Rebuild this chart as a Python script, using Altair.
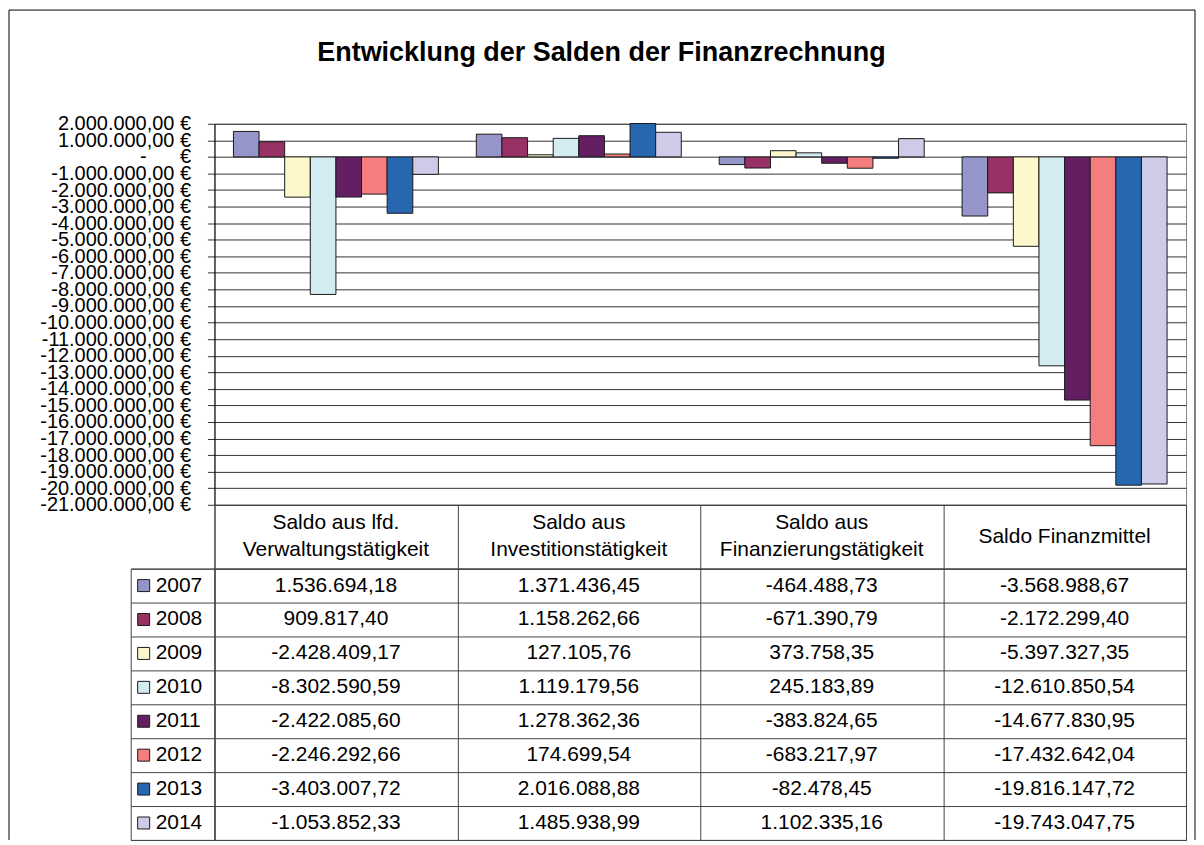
import altair as alt
import pandas as pd

# ---- data ----
categories = [
    "Saldo aus lfd.|Verwaltungstätigkeit",
    "Saldo aus|Investitionstätigkeit",
    "Saldo aus|Finanzierungstätigkeit",
    "Saldo Finanzmittel",
]
years = ["2007", "2008", "2009", "2010", "2011", "2012", "2013", "2014"]
v2007 = [1536694.18, 1371436.45, -464488.73, -3568988.67]
v2008 = [909817.40, 1158262.66, -671390.79, -2172299.40]
v2009 = [-2428409.17, 127105.76, 373758.35, -5397327.35]
v2010 = [-8302590.59, 1119179.56, 245183.89, -12610850.54]
v2011 = [-2422085.60, 1278362.36, -383824.65, -14677830.95]
v2012 = [-2246292.66, 174699.54, -683217.97, -17432642.04]
v2013 = [-3403007.72, 2016088.88, -82478.45, -19816147.72]
v2014 = [-1053852.33, 1485938.99, 1102335.16, -19743047.75]
series = [v2007, v2008, v2009, v2010, v2011, v2012, v2013, v2014]
colors = ["#9595C9", "#983265", "#FCF8CC", "#D3ECF2", "#641F62", "#F47E7E", "#2767B0", "#CDCBE7"]
tick_values = list(range(-21000000, 2000001, 1000000))
title_text = "Entwicklung der Salden der Finanzrechnung"

rows = []
for y, vals in zip(years, series):
    for c, v in zip(categories, vals):
        rows.append({"year": y, "category": c, "value": v})
df = pd.DataFrame(rows)
cat_df = pd.DataFrame({"category": categories})
year_df = pd.DataFrame({"year": years})
one_df = pd.DataFrame({"k": [0]})

W, H_BARS, H_HEAD, H_BODY, W_LEG = 974, 382, 64, 272, 84
LINE = "#444444"

color_scale = alt.Scale(domain=years, range=colors)
x_band = alt.Scale(type="band", domain=categories, paddingInner=0, paddingOuter=0)
y_band = alt.Scale(type="band", domain=years, paddingInner=0, paddingOuter=0)

nb = "\u00a0"
label_expr = ("datum.value == 0 ? '-" + nb * 6 + "€' : "
              "format(datum.value, ',.2f') + ' €'")

bars = alt.Chart(df).mark_bar(stroke="#1a1a1a", strokeWidth=1).encode(
    x=alt.X("category:N", sort=categories, scale=x_band, axis=None),
    xOffset=alt.XOffset("year:N", sort=years,
                        scale=alt.Scale(paddingInner=0, paddingOuter=0.74)),
    y=alt.Y("value:Q",
            scale=alt.Scale(domain=[-21000000, 2000000], nice=False),
            axis=alt.Axis(values=tick_values, labelExpr=label_expr, title=None,
                          labelFontSize=20, labelPadding=17, tickSize=7,
                          tickColor="#333333", gridColor="#333333",
                          domainColor="#000000", labelOverlap=False,
                          labelColor="black", labelFlush=False)),
    color=alt.Color("year:N", scale=color_scale, legend=None),
).properties(
    width=W, height=H_BARS,
    view=alt.ViewBackground(stroke="#888888"),
    title=alt.TitleParams(title_text, fontSize=27, fontWeight="bold",
                          anchor="middle", frame="group", dx=-99, offset=47,
                          color="black"),
)

head_axis = alt.Axis(grid=True, tickBand="extent", labels=False, ticks=False,
                     domain=False, title=None, gridColor=LINE)
head_two = alt.Chart(cat_df).transform_filter(
    "indexof(datum.category, '|') >= 0"
).mark_text(fontSize=21, lineBreak="|", lineHeight=27, dy=-13.5, color="black").encode(
    x=alt.X("category:N", sort=categories, scale=x_band, axis=head_axis),
    text="category:N",
)
head_one = alt.Chart(cat_df).transform_filter(
    "indexof(datum.category, '|') < 0"
).mark_text(fontSize=21, color="black").encode(
    x=alt.X("category:N", sort=categories, scale=x_band),
    text="category:N",
)
header = alt.layer(head_two, head_one).properties(width=W, height=H_HEAD)

legend_sq = alt.Chart(year_df).mark_square(size=144, stroke="#1a1a1a", strokeWidth=1,
                                           opacity=1, filled=True, xOffset=-29).encode(
    y=alt.Y("year:N", sort=years, scale=y_band,
            axis=alt.Axis(grid=True, tickBand="extent", labels=False, ticks=False,
                          domain=False, title=None, gridColor=LINE)),
    fill=alt.Fill("year:N", scale=color_scale, legend=None),
)
legend_tx = alt.Chart(year_df).mark_text(align="left", dx=-17, fontSize=21,
                                         color="black").encode(
    y=alt.Y("year:N", sort=years, scale=y_band),
    text="year:N",
)
frame_l = alt.Chart(one_df).mark_rule(color="black", strokeWidth=1).encode(
    x=alt.value(-122), y=alt.value(-560), y2=alt.value(H_BODY))
frame_t = alt.Chart(one_df).mark_rule(color="black", strokeWidth=1).encode(
    x=alt.value(-122), x2=alt.value(1067), y=alt.value(-560))
frame_r = alt.Chart(one_df).mark_rule(color="black", strokeWidth=1).encode(
    x=alt.value(1067), y=alt.value(-560), y2=alt.value(H_BODY))
legend_col = alt.layer(legend_sq, legend_tx, frame_l, frame_t, frame_r).properties(
    width=W_LEG, height=H_BODY)

body = alt.Chart(df).mark_text(fontSize=21, color="black").encode(
    x=alt.X("category:N", sort=categories, scale=x_band,
            axis=alt.Axis(grid=True, tickBand="extent", labels=False, ticks=False,
                          domain=False, title=None, gridColor=LINE)),
    y=alt.Y("year:N", sort=years, scale=y_band,
            axis=alt.Axis(grid=True, tickBand="extent", labels=False, ticks=False,
                          domain=False, title=None, gridColor=LINE)),
    text=alt.Text("value:Q", format=",.2f"),
).properties(width=W, height=H_BODY)

blank1 = alt.Chart(one_df).mark_text(text="").encode(
    x=alt.value(0), y=alt.value(0)).properties(
    width=W_LEG, height=H_BARS, view=alt.ViewBackground(stroke="transparent"))
blank2 = alt.Chart(one_df).mark_text(text="").encode(
    x=alt.value(0), y=alt.value(0)).properties(
    width=W_LEG, height=H_HEAD, view=alt.ViewBackground(stroke="transparent"))

chart = alt.concat(blank1, bars, blank2, header, legend_col, body,
                   columns=2, spacing=0, bounds="flush").properties(
    padding=0, background="white"
).configure(
    font="Liberation Sans",
    locale=alt.Locale(number=alt.NumberLocale(decimal=",", thousands=".",
                                              grouping=[3], currency=["", " €"],
                                              minus="-")),
).configure_view(stroke=LINE, strokeWidth=1)

chart.save("out.html", embed_options={"renderer": "svg", "actions": False})
